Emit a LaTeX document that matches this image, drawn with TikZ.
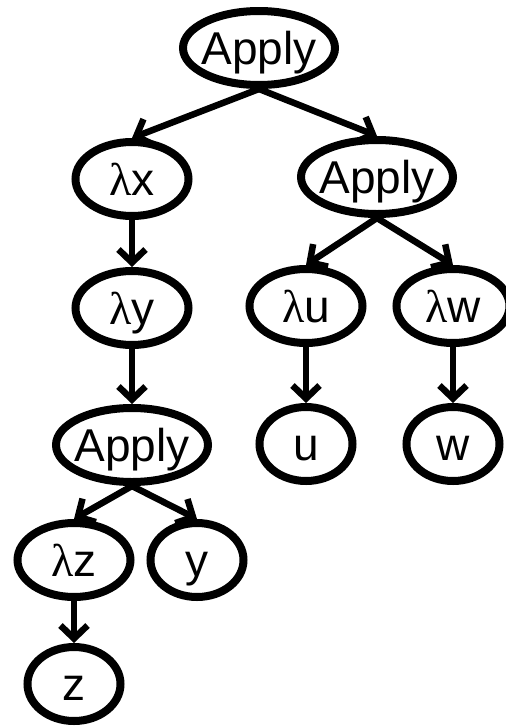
\documentclass[tikz,border=0pt]{standalone}
\usepackage{fontspec}
\setmainfont{Liberation Sans}
\newfontfamily\grk{Liberation Serif}
\usetikzlibrary{shapes.geometric,arrows.meta}
\begin{document}
\begin{tikzpicture}[x=1pt,y=-1pt,
  nd/.style={ellipse,draw,line width=8pt,inner sep=0pt,minimum height=74pt,
    text height=33pt,text depth=0pt,font=\fontsize{46}{50}\selectfont},
  wide/.style={nd,minimum width=152pt,inner xsep=-5pt},
  mid/.style={nd,minimum width=113pt},
  small/.style={nd,minimum width=93pt},
  edge/.style={line width=6.5pt,-{Straight Barb[length=13pt,width=27pt]}}]
\useasboundingbox (0,0) rectangle (506,726);
\node[wide] (a1) at (259,48) {Apply};
\node[wide] (a2) at (377,177) {Apply};
\node[mid] (lx) at (132,179) {{\grk λ}x};
\node[mid] (ly) at (132,308) {{\grk λ}y};
\node[wide] (a3) at (132,445) {Apply};
\node[mid] (lz) at (74,560) {{\grk λ}z};
\node[small] (y) at (197,560) {y};
\node[small] (z) at (74,684) {z};
\node[mid] (lu) at (306,306) {{\grk λ}u};
\node[mid] (lw) at (453,306) {{\grk λ}w};
\node[small] (u) at (306,444) {u};
\node[small] (w) at (453,444) {w};
\draw[edge] (a1.south) -- (lx.north);
\draw[edge] (a1.south) -- (a2.north);
\draw[edge] (lx.south) -- (ly.north);
\draw[edge] (ly.south) -- (a3.north);
\draw[edge] (a3.south) -- (lz.north);
\draw[edge] (a3.south) -- (y.north);
\draw[edge] (lz.south) -- (z.north);
\draw[edge] (a2.south) -- (lu.north);
\draw[edge] (a2.south) -- (lw.north);
\draw[edge] (lu.south) -- (u.north);
\draw[edge] (lw.south) -- (w.north);
\end{tikzpicture}
\end{document}
